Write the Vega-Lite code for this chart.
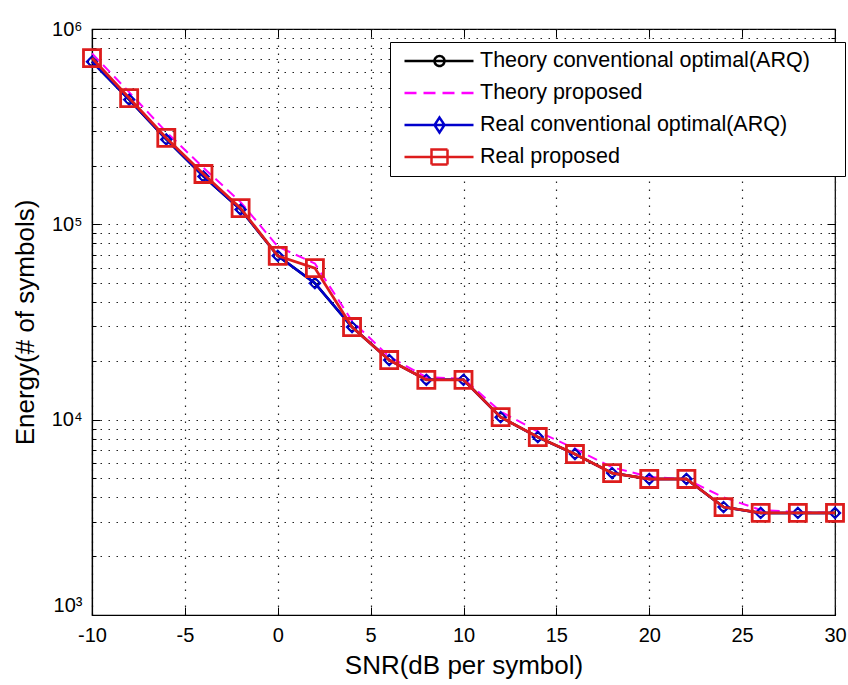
{
  "$schema": "https://vega.github.io/schema/vega-lite/v6.json",
  "width": 743,
  "height": 586,
  "autosize": {"type": "none"},
  "padding": {"left": 92, "top": 29, "right": 13, "bottom": 70},
  "background": "white",
  "config": {
    "view": {"stroke": "black", "strokeWidth": 1.2},
    "font": "Liberation Sans",
    "axis": {
      "labelFont": "Liberation Sans",
      "titleFont": "Liberation Sans",
      "labelColor": "black",
      "titleColor": "black",
      "tickColor": "black",
      "domainColor": "black",
      "gridColor": "#222222",
      "gridDash": [1.5, 6.5],
      "gridOpacity": 1,
      "gridWidth": 1.2,
      "labelFlush": false,
      "titleFontWeight": "normal"
    }
  },
  "data": {
    "values": [
      {"series": "Theory conventional optimal(ARQ)", "snr": -10, "energy": 680000},
      {"series": "Theory conventional optimal(ARQ)", "snr": -8, "energy": 435000},
      {"series": "Theory conventional optimal(ARQ)", "snr": -6, "energy": 272000},
      {"series": "Theory conventional optimal(ARQ)", "snr": -4, "energy": 176000},
      {"series": "Theory conventional optimal(ARQ)", "snr": -2, "energy": 119000},
      {"series": "Theory conventional optimal(ARQ)", "snr": 0, "energy": 69000},
      {"series": "Theory conventional optimal(ARQ)", "snr": 2, "energy": 50000},
      {"series": "Theory conventional optimal(ARQ)", "snr": 4, "energy": 29800},
      {"series": "Theory conventional optimal(ARQ)", "snr": 6, "energy": 20200},
      {"series": "Theory conventional optimal(ARQ)", "snr": 8, "energy": 16000},
      {"series": "Theory conventional optimal(ARQ)", "snr": 10, "energy": 16000},
      {"series": "Theory conventional optimal(ARQ)", "snr": 12, "energy": 10300},
      {"series": "Theory conventional optimal(ARQ)", "snr": 14, "energy": 8150},
      {"series": "Theory conventional optimal(ARQ)", "snr": 16, "energy": 6670},
      {"series": "Theory conventional optimal(ARQ)", "snr": 18, "energy": 5330},
      {"series": "Theory conventional optimal(ARQ)", "snr": 20, "energy": 4970},
      {"series": "Theory conventional optimal(ARQ)", "snr": 22, "energy": 4970},
      {"series": "Theory conventional optimal(ARQ)", "snr": 24, "energy": 3570},
      {"series": "Theory conventional optimal(ARQ)", "snr": 26, "energy": 3330},
      {"series": "Theory conventional optimal(ARQ)", "snr": 28, "energy": 3330},
      {"series": "Theory conventional optimal(ARQ)", "snr": 30, "energy": 3330},
      {"series": "Theory proposed", "snr": -10, "energy": 750000},
      {"series": "Theory proposed", "snr": -8, "energy": 475000},
      {"series": "Theory proposed", "snr": -6, "energy": 297000},
      {"series": "Theory proposed", "snr": -4, "energy": 195000},
      {"series": "Theory proposed", "snr": -2, "energy": 130000},
      {"series": "Theory proposed", "snr": 0, "energy": 77000},
      {"series": "Theory proposed", "snr": 2, "energy": 63000},
      {"series": "Theory proposed", "snr": 4, "energy": 32000},
      {"series": "Theory proposed", "snr": 6, "energy": 21000},
      {"series": "Theory proposed", "snr": 8, "energy": 16500},
      {"series": "Theory proposed", "snr": 10, "energy": 16200},
      {"series": "Theory proposed", "snr": 12, "energy": 11000},
      {"series": "Theory proposed", "snr": 14, "energy": 8700},
      {"series": "Theory proposed", "snr": 16, "energy": 7100},
      {"series": "Theory proposed", "snr": 18, "energy": 5700},
      {"series": "Theory proposed", "snr": 20, "energy": 5100},
      {"series": "Theory proposed", "snr": 22, "energy": 4950},
      {"series": "Theory proposed", "snr": 24, "energy": 4000},
      {"series": "Theory proposed", "snr": 26, "energy": 3450},
      {"series": "Theory proposed", "snr": 28, "energy": 3360},
      {"series": "Theory proposed", "snr": 30, "energy": 3330},
      {"series": "Real conventional optimal(ARQ)", "snr": -10, "energy": 680000},
      {"series": "Real conventional optimal(ARQ)", "snr": -8, "energy": 435000},
      {"series": "Real conventional optimal(ARQ)", "snr": -6, "energy": 272000},
      {"series": "Real conventional optimal(ARQ)", "snr": -4, "energy": 176000},
      {"series": "Real conventional optimal(ARQ)", "snr": -2, "energy": 119000},
      {"series": "Real conventional optimal(ARQ)", "snr": 0, "energy": 69000},
      {"series": "Real conventional optimal(ARQ)", "snr": 2, "energy": 50000},
      {"series": "Real conventional optimal(ARQ)", "snr": 4, "energy": 29800},
      {"series": "Real conventional optimal(ARQ)", "snr": 6, "energy": 20200},
      {"series": "Real conventional optimal(ARQ)", "snr": 8, "energy": 16000},
      {"series": "Real conventional optimal(ARQ)", "snr": 10, "energy": 16000},
      {"series": "Real conventional optimal(ARQ)", "snr": 12, "energy": 10300},
      {"series": "Real conventional optimal(ARQ)", "snr": 14, "energy": 8150},
      {"series": "Real conventional optimal(ARQ)", "snr": 16, "energy": 6670},
      {"series": "Real conventional optimal(ARQ)", "snr": 18, "energy": 5330},
      {"series": "Real conventional optimal(ARQ)", "snr": 20, "energy": 4970},
      {"series": "Real conventional optimal(ARQ)", "snr": 22, "energy": 4970},
      {"series": "Real conventional optimal(ARQ)", "snr": 24, "energy": 3570},
      {"series": "Real conventional optimal(ARQ)", "snr": 26, "energy": 3330},
      {"series": "Real conventional optimal(ARQ)", "snr": 28, "energy": 3330},
      {"series": "Real conventional optimal(ARQ)", "snr": 30, "energy": 3330},
      {"series": "Real proposed", "snr": -10, "energy": 710000},
      {"series": "Real proposed", "snr": -8, "energy": 443000},
      {"series": "Real proposed", "snr": -6, "energy": 277000},
      {"series": "Real proposed", "snr": -4, "energy": 181000},
      {"series": "Real proposed", "snr": -2, "energy": 121000},
      {"series": "Real proposed", "snr": 0, "energy": 69000},
      {"series": "Real proposed", "snr": 2, "energy": 59700},
      {"series": "Real proposed", "snr": 4, "energy": 29800},
      {"series": "Real proposed", "snr": 6, "energy": 20200},
      {"series": "Real proposed", "snr": 8, "energy": 16000},
      {"series": "Real proposed", "snr": 10, "energy": 16000},
      {"series": "Real proposed", "snr": 12, "energy": 10300},
      {"series": "Real proposed", "snr": 14, "energy": 8150},
      {"series": "Real proposed", "snr": 16, "energy": 6670},
      {"series": "Real proposed", "snr": 18, "energy": 5330},
      {"series": "Real proposed", "snr": 20, "energy": 4970},
      {"series": "Real proposed", "snr": 22, "energy": 4970},
      {"series": "Real proposed", "snr": 24, "energy": 3570},
      {"series": "Real proposed", "snr": 26, "energy": 3330},
      {"series": "Real proposed", "snr": 28, "energy": 3330},
      {"series": "Real proposed", "snr": 30, "energy": 3330}
    ]
  },
  "resolve": {"axis": {"x": "independent", "y": "independent"}},
  "layer": [
    {
      "transform": [{"filter": "datum.series == 'Theory conventional optimal(ARQ)'"}],
      "mark": {"type": "line", "color": "black", "strokeWidth": 2.5},
      "encoding": {
        "x": {"field": "snr", "type": "quantitative", "scale": {"domain": [-10, 30], "nice": false},
          "axis": {"orient": "bottom", "values": [-10, -5, 0, 5, 10, 15, 20, 25, 30], "grid": true, "tickSize": -8, "tickWidth": 1, "domain": true, "domainWidth": 1.2, "labelPadding": 18, "labelFontSize": 20, "labelFlush": false, "labelExpr": "'' + datum.value", "title": "SNR(dB per symbol)", "titleFontSize": 26, "titlePadding": 7}},
        "y": {"field": "energy", "type": "quantitative", "scale": {"type": "log", "domain": [1000, 1000000], "nice": false},
          "axis": {"orient": "left", "values": [1000,2000,3000,4000,5000,6000,7000,8000,9000,10000,20000,30000,40000,50000,60000,70000,80000,90000,100000,200000,300000,400000,500000,600000,700000,800000,900000,1000000], "grid": true, "tickSize": -4, "labels": false, "domain": false, "title": null}}
      }
    },
    {
      "transform": [{"filter": "datum.series == 'Theory conventional optimal(ARQ)'"}],
      "mark": {"type": "point", "shape": "circle", "filled": false, "color": "black", "size": 55, "strokeWidth": 1.5, "opacity": 1},
      "encoding": {
        "x": {"field": "snr", "type": "quantitative",
          "axis": {"orient": "top", "values": [-10, -5, 0, 5, 10, 15, 20, 25, 30], "grid": false, "tickSize": -8, "labels": false, "domain": false, "title": null}},
        "y": {"field": "energy", "type": "quantitative",
          "axis": {"orient": "left", "values": [1000, 10000, 100000, 1000000], "grid": false, "tickSize": -8, "domain": true, "domainWidth": 1.2, "labelPadding": 18, "labelFontSize": 20, "labelFlush": false,
            "labelExpr": "datum.value == 1000 ? '10³' : datum.value == 10000 ? '10⁴' : datum.value == 100000 ? '10⁵' : '10⁶'",
            "labelBaseline": {"condition": {"test": "datum.value == 1000", "value": "bottom"}, "value": "middle"},
            "title": "Energy(# of symbols)", "titleFontSize": 26, "titlePadding": 13}}
      }
    },
    {
      "transform": [{"filter": "datum.series == 'Theory proposed'"}],
      "mark": {"type": "line", "color": "#ff00ff", "strokeWidth": 2, "strokeDash": [10, 6]},
      "encoding": {
        "x": {"field": "snr", "type": "quantitative", "axis": null},
        "y": {"field": "energy", "type": "quantitative",
          "axis": {"orient": "right", "values": [1000,2000,3000,4000,5000,6000,7000,8000,9000,10000,20000,30000,40000,50000,60000,70000,80000,90000,100000,200000,300000,400000,500000,600000,700000,800000,900000,1000000], "grid": false, "tickSize": -4, "labels": false, "domain": false, "title": null}}
      }
    },
    {
      "transform": [{"filter": "datum.series == 'Real conventional optimal(ARQ)'"}],
      "mark": {"type": "line", "color": "#0000cc", "strokeWidth": 2.5},
      "encoding": {
        "x": {"field": "snr", "type": "quantitative", "axis": null},
        "y": {"field": "energy", "type": "quantitative",
          "axis": {"orient": "right", "values": [1000, 10000, 100000, 1000000], "grid": false, "tickSize": -8, "labels": false, "domain": false, "title": null}}
      }
    },
    {
      "transform": [{"filter": "datum.series == 'Real conventional optimal(ARQ)'"}],
      "mark": {"type": "point", "shape": "diamond", "filled": false, "color": "#0000cc", "size": 110, "strokeWidth": 2, "opacity": 1},
      "encoding": {
        "x": {"field": "snr", "type": "quantitative", "axis": null},
        "y": {"field": "energy", "type": "quantitative", "axis": null}
      }
    },
    {
      "transform": [{"filter": "datum.series == 'Real proposed'"}],
      "mark": {"type": "line", "color": "#dd1c1c", "strokeWidth": 2.8},
      "encoding": {
        "x": {"field": "snr", "type": "quantitative", "axis": null},
        "y": {"field": "energy", "type": "quantitative", "axis": null}
      }
    },
    {
      "transform": [{"filter": "datum.series == 'Real proposed'"}],
      "mark": {"type": "point", "shape": "square", "filled": false, "color": "#dd1c1c", "size": 290, "strokeWidth": 2.8, "opacity": 1},
      "encoding": {
        "x": {"field": "snr", "type": "quantitative", "axis": null},
        "y": {"field": "energy", "type": "quantitative", "axis": null}
      }
    },
    {
      "transform": [{"filter": "datum.snr > 1000"}],
      "mark": {"type": "point", "filled": false, "opacity": 1, "strokeWidth": 2.5},
      "encoding": {
        "x": {"field": "snr", "type": "quantitative", "axis": null},
        "y": {"field": "energy", "type": "quantitative", "axis": null},
        "color": {"field": "series", "type": "nominal",
          "scale": {"domain": ["Theory conventional optimal(ARQ)", "Theory proposed", "Real conventional optimal(ARQ)", "Real proposed"], "range": ["black", "#ff00ff", "#0000cc", "#dd1c1c"]},
          "legend": {"orient": "none", "legendX": 298, "legendY": 13, "title": null, "padding": 3, "rowPadding": 0, "clipHeight": 32, "symbolSize": 10000, "symbolStrokeWidth": 2.5, "symbolFillColor": "transparent", "labelFont": "Liberation Sans", "labelFontSize": 21.5, "labelColor": "black", "labelOffset": -16, "labelLimit": 0, "strokeColor": "black", "fillColor": "white", "labelExpr": "datum.label + '\u2800\u2800'"}},
        "shape": {"field": "series", "type": "nominal",
          "scale": {"domain": ["Theory conventional optimal(ARQ)", "Theory proposed", "Real conventional optimal(ARQ)", "Real proposed"],
            "range": [
              "M-0.8,0H0.58M0.0,0A0.1,0.1 0 1,1 -0.2,0A0.1,0.1 0 1,1 0.0,0",
              "M-0.8,0H0.58",
              "M-0.8,0H0.58M-0.1,-0.15L0.0,0L-0.1,0.15L-0.2,0Z",
              "M-0.8,0H0.58M-0.26,-0.15H0.06V0.15H-0.26Z"
            ]},
          "legend": {"orient": "none", "legendX": 298, "legendY": 13, "title": null, "padding": 3, "rowPadding": 0, "clipHeight": 32, "symbolSize": 10000, "symbolStrokeWidth": 2.5, "symbolFillColor": "transparent", "labelFont": "Liberation Sans", "labelFontSize": 21.5, "labelColor": "black", "labelOffset": -16, "labelLimit": 0, "strokeColor": "black", "fillColor": "white", "labelExpr": "datum.label + '\u2800\u2800'"}},
        "strokeDash": {"field": "series", "type": "nominal",
          "scale": {"domain": ["Theory conventional optimal(ARQ)", "Theory proposed", "Real conventional optimal(ARQ)", "Real proposed"], "range": [[1, 0], [12, 7], [1, 0], [1, 0]]},
          "legend": {"orient": "none", "legendX": 298, "legendY": 13, "title": null, "padding": 3, "rowPadding": 0, "clipHeight": 32, "symbolSize": 10000, "symbolStrokeWidth": 2.5, "symbolFillColor": "transparent", "labelFont": "Liberation Sans", "labelFontSize": 21.5, "labelColor": "black", "labelOffset": -16, "labelLimit": 0, "strokeColor": "black", "fillColor": "white", "labelExpr": "datum.label + '\u2800\u2800'"}}
      }
    }
  ]
}
